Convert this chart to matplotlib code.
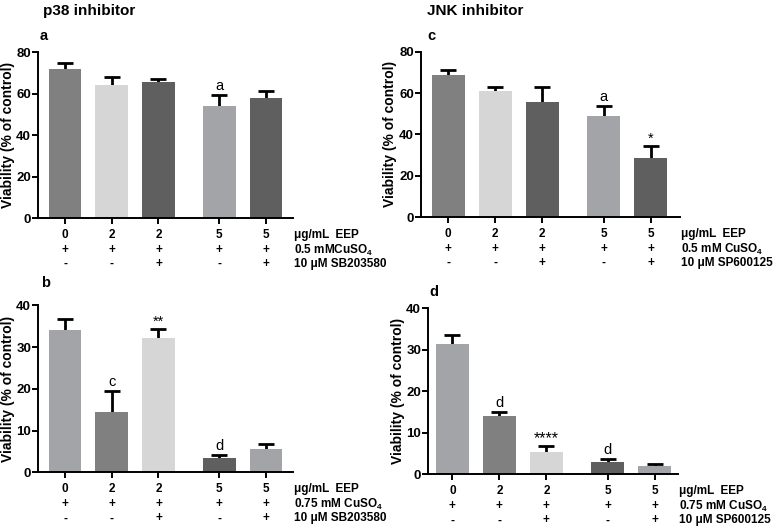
import matplotlib
matplotlib.use("Agg")
import matplotlib.pyplot as plt
import numpy as np

plt.rcParams['font.family'] = ['Liberation Sans', 'DejaVu Sans']
plt.rcParams['mathtext.fontset'] = 'custom'
plt.rcParams['mathtext.rm'] = 'Liberation Sans:bold'
plt.rcParams['mathtext.bf'] = 'Liberation Sans:bold'

# ---- data ----
positions = [0, 1, 2, 3.3, 4.3]
eep = ["0", "2", "2", "5", "5"]
cuso4 = ["+", "+", "+", "+", "+"]
inhib = ["-", "-", "+", "-", "+"]

a_vals = [71.8, 64.1, 65.5, 53.8, 58.0]
a_err = [2.9, 3.8, 1.5, 5.7, 3.2]
a_marks = ["", "", "", "a", ""]

b_vals = [34.1, 14.5, 32.2, 3.4, 5.5]
b_err = [2.7, 4.9, 2.2, 0.8, 1.2]
b_marks = ["", "c", "**", "d", ""]

c_vals = [68.5, 61.1, 55.8, 49.0, 28.4]
c_err = [2.6, 1.6, 6.9, 4.7, 6.0]
c_marks = ["", "", "", "a", "*"]

d_vals = [31.4, 14.1, 5.3, 3.05, 2.1]
d_err = [2.2, 0.9, 1.4, 0.75, 0.4]
d_marks = ["", "d", "****", "d", ""]

row_labels_a = ["\u03bcg/mL  EEP", r"0.5 mMCuSO$_4$", "10 \u03bcM SB203580"]
row_labels_b = ["\u03bcg/mL  EEP", r"0.75 mM CuSO$_4$", "10 \u03bcM SB203580"]
row_labels_c = ["\u03bcg/mL  EEP", r"0.5 mM CuSO$_4$", "10 \u03bcM SP600125"]
row_labels_d = ["\u03bcg/mL  EEP", r"0.75 mM CuSO$_4$", "10 \u03bcM SP600125"]

MID = "#808080"
LIGHT = "#d6d6d6"
DARK = "#5f5f5f"
LMID = "#a3a4a8"
colors_top = [MID, LIGHT, DARK, LMID, DARK]
colors_bot = [LMID, MID, LIGHT, DARK, LMID]

fig = plt.figure(figsize=(7.77, 5.31), dpi=100)


def panel(rect, vals, errs, marks, colors, ylim, yticks, xlim, rows, letter, letter_xy):
    ax = fig.add_axes(rect)
    ax.errorbar(positions, vals, yerr=errs, fmt='none', ecolor='black',
                elinewidth=2.0, capsize=5.5, capthick=2.0, zorder=1)
    ax.bar(positions, vals, width=0.70, color=colors, edgecolor='none', zorder=2)
    ax.set_ylim(*ylim)
    ax.set_xlim(*xlim)
    ax.set_yticks(yticks)
    ax.set_xticks(positions)
    ax.set_xticklabels([])
    for s in ['top', 'right']:
        ax.spines[s].set_visible(False)
    for s in ['left', 'bottom']:
        ax.spines[s].set_linewidth(1.4)
    ax.tick_params(axis='both', width=1.4, length=4, direction='out', pad=1)
    for lab in ax.get_yticklabels():
        lab.set_fontweight('bold')
        lab.set_fontsize(9.5)
    ax.set_ylabel("Viability (% of control)", fontsize=10, fontweight='bold', labelpad=1)
    for x, v, e, m in zip(positions, vals, errs, marks):
        if m:
            star = m.startswith('*')
            off = 0 if star else 2
            fs = 11.5 if m == "****" else 10.5
            ax.annotate(m, xy=(x, v + e), xytext=(0, off), textcoords='offset pixels',
                        ha='center', va='bottom', fontsize=fs)
    offsets = [-17, -32, -46]
    for row, off in zip([eep, cuso4, inhib], offsets):
        for x, t in zip(positions, row):
            ax.annotate(t, xy=(x, 0), xycoords=('data', 'axes fraction'),
                        xytext=(0, off), textcoords='offset pixels',
                        ha='center', va='center', fontsize=8.5, fontweight='bold')
    for lab, off in zip(rows, offsets):
        ax.annotate(lab, xy=(1.0, 0), xycoords='axes fraction',
                    xytext=(1, off), textcoords='offset pixels',
                    ha='left', va='center', fontsize=8.5, fontweight='bold')
    fig.text(letter_xy[0] / 777, 1 - letter_xy[1] / 531, letter, fontsize=10.5,
             fontweight='bold', ha='left', va='center')
    return ax


panel([38 / 777, 1 - 218 / 531, 255 / 777, 166 / 531], a_vals, a_err, a_marks, colors_top,
      (0, 80), [0, 20, 40, 60, 80], (-0.58, 4.88), row_labels_a, "a", (40, 36))
panel([38 / 777, 1 - 472.3 / 531, 255 / 777, 167 / 531], b_vals, b_err, b_marks, colors_bot,
      (0, 40), [0, 10, 20, 30, 40], (-0.58, 4.88), row_labels_b, "b", (41, 283))
panel([420.7 / 777, 1 - 217 / 531, 259.3 / 777, 165.3 / 531], c_vals, c_err, c_marks, colors_top,
      (0, 80), [0, 20, 40, 60, 80], (-0.58, 4.92), row_labels_c, "c", (427, 36))
panel([428 / 777, 1 - 474.3 / 531, 250 / 777, 166 / 531], d_vals, d_err, d_marks, colors_bot,
      (0, 40), [0, 10, 20, 30, 40], (-0.52, 4.8), row_labels_d, "d", (429, 292))

fig.text(43 / 777, 1 - 11 / 531, "p38 inhibitor", fontsize=11, fontweight='bold', ha='left', va='center')
fig.text(427 / 777, 1 - 11 / 531, "JNK inhibitor", fontsize=11, fontweight='bold', ha='left', va='center')

fig.savefig("out.png", dpi=100)
